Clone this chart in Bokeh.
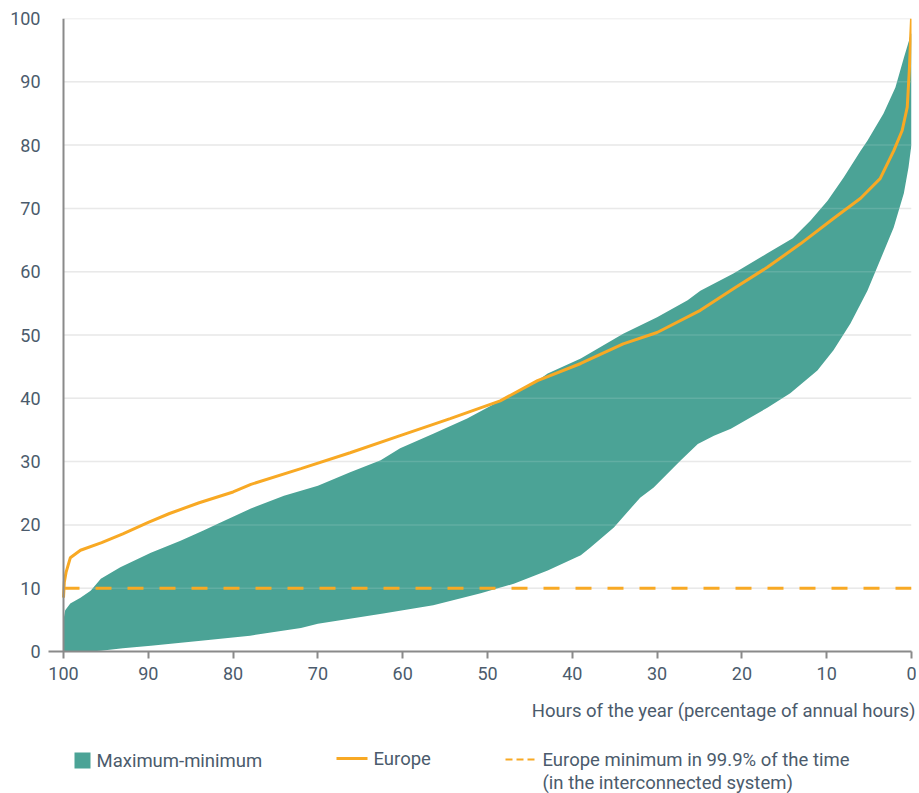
from bokeh.plotting import figure
from bokeh.models import Range1d, FixedTicker, Span
from bokeh.layouts import column
from bokeh.core.properties import value
from bokeh.embed import file_html
from bokeh.resources import INLINE

# ---- data ----
max_x = [100, 99.8, 99.2, 98.0, 96.8, 95.6, 93.3, 89.7, 86.2, 83.5, 81.8, 77.9, 74, 70,
         66.2, 62.6, 60.3, 56.4, 52.4, 48.5, 44.1, 42.9, 39, 34, 30, 26.4, 24.9, 21, 17,
         14, 11.9, 9.9, 8, 6, 5.2, 3.3, 1.9, 0.9, 0.3, 0.1, 0]
max_y = [5.0, 6.5, 7.6, 8.5, 9.6, 11.5, 13.3, 15.6, 17.5, 19.1, 20.2, 22.6, 24.6, 26.2,
         28.3, 30.2, 32.1, 34.4, 36.8, 39.6, 42.8, 43.9, 46.3, 50.2, 52.8, 55.5, 57.0, 59.7, 62.9,
         65.3, 68.1, 71.2, 74.9, 79.1, 80.7, 85.0, 89.1, 93.8, 96.5, 97.6, 97.6]

min_x = [100, 97, 95.6, 93, 89.7, 83.8, 78, 72, 70, 62.3, 56.4, 50.8, 46.9, 42.9, 39, 37.9,
         35.1, 32, 30.4, 27.2, 25.2, 23.3, 21.3, 17, 14.3, 11.1, 9.2, 7.2, 5.2, 3.7, 2.1,
         0.9, 0.35, 0.1, 0]
min_y = [0, 0, 0.1, 0.5, 0.9, 1.7, 2.5, 3.7, 4.4, 6.0, 7.3, 9.2, 10.7, 12.8, 15.2, 16.4,
         19.6, 24.3, 25.9, 30.2, 32.8, 34.1, 35.2, 38.5, 40.8, 44.4, 47.6, 51.8, 57.0, 61.8, 67.0,
         72.4, 76.5, 79.1, 80.0]

europe_x = [100, 99.9, 99.7, 99.2, 98.0, 95.5, 93.0, 90.0, 87.5, 84.0, 80.0, 77.9, 72, 66.2,
            60.3, 54.4, 48.5, 44.1, 39, 34, 30, 24.9, 21, 17, 13.1, 9.2, 6, 3.7, 2.1, 1.1,
            0.5, 0.25, 0.1, 0]
europe_y = [8.5, 11.0, 12.5, 14.8, 16.0, 17.2, 18.6, 20.4, 21.8, 23.5, 25.2, 26.4, 28.9, 31.4,
            34.1, 36.8, 39.6, 42.8, 45.5, 48.6, 50.4, 53.9, 57.3, 60.7, 64.4, 68.4, 71.6, 74.7, 79.1, 82.3,
            86.0, 92.0, 97.0, 100.0]

europe_min_999 = 10
hours_bounds = [100, 0]
x_ticks = [0, 10, 20, 30, 40, 50, 60, 70, 80, 90, 100]
y_ticks = [0, 10, 20, 30, 40, 50, 60, 70, 80, 90, 100]
grid_values = [10, 20, 30, 40, 50, 60, 70, 80, 90, 100]

labels = {
    "area": "Maximum-minimum",
    "europe": "Europe",
    "min1": "Europe minimum in 99.9% of the time",
    "min2": "(in the interconnected system)",
    "xtitle": "Hours of the year (percentage of annual hours)",
}

# ---- style ----
GREEN = "#4BA396"
ORANGE = "#F8A924"
TEXT = "#4b5b6c"
AXIS = "#8a8a8a"
FONT = "Roboto"
FS = "18.5px"

FRAME_W = 863
start = 100 / (1 - 15 / FRAME_W)

p = figure(width=916, height=688, output_backend="svg", toolbar_location=None,
           x_range=Range1d(start, 0), y_range=Range1d(0, 100),
           min_border_left=48, min_border_right=5, min_border_top=18, min_border_bottom=37)
p.outline_line_color = None
p.xgrid.visible = False
p.ygrid.visible = False

for ax in (p.xaxis[0], p.yaxis[0]):
    ax.major_label_text_font = FONT
    ax.major_label_text_font_size = "18px"
    ax.major_label_text_color = TEXT
    ax.minor_tick_line_color = None

p.xaxis.ticker = FixedTicker(ticks=x_ticks)
p.xaxis.axis_line_color = AXIS
p.xaxis.axis_line_width = 2
p.xaxis.major_tick_line_color = AXIS
p.xaxis.major_tick_line_width = 2
p.xaxis.major_tick_in = 0
p.xaxis.major_tick_out = 7
p.xaxis.major_label_standoff = 8

p.yaxis.ticker = FixedTicker(ticks=y_ticks)
p.yaxis.axis_line_color = None
p.yaxis.major_tick_line_color = None
p.yaxis.major_tick_in = 0
p.yaxis.major_tick_out = 0
p.yaxis.major_label_standoff = 8

# grid lines (drawn from x=100 to x=0)
n = len(grid_values)
p.segment(x0=[hours_bounds[0]] * n, x1=[hours_bounds[1]] * n, y0=grid_values, y1=grid_values,
          line_color="#e6e6e6", line_width=1.5)

# band
band_x = list(max_x) + list(reversed(min_x))
band_y = list(max_y) + list(reversed(min_y))
p.patch(band_x, band_y, fill_color=GREEN, line_color=None)

# faint gridlines over the band
p.segment(x0=[hours_bounds[0]] * n, x1=[hours_bounds[1]] * n, y0=grid_values, y1=grid_values,
          line_color="white", line_alpha=0.13, line_width=1.5)

# y axis line
p.add_layout(Span(location=100, dimension="height", line_color=AXIS, line_width=2))

# dashed minimum line
p.line(hours_bounds, [europe_min_999, europe_min_999], line_color=ORANGE, line_width=3,
       line_dash="16 16")

# Europe line
p.line(europe_x, europe_y, line_color=ORANGE, line_width=3)

# ---- axis title & legend in a second figure (pixel coordinates) ----
TOP = 688
H = 105
lg = figure(width=916, height=H, output_backend="svg", toolbar_location=None,
            x_range=Range1d(48, 911), y_range=Range1d(H, 0),
            min_border_left=48, min_border_right=5,
            min_border_top=0, min_border_bottom=0)
lg.axis.visible = False
lg.grid.visible = False
lg.outline_line_color = None


def t(px, py, text, align="left", level="glyph"):
    r = lg.text(x=[px], y=[py - TOP], text=[text], text_font=value(FONT),
                text_font_size=FS, text_color=TEXT, text_align=align,
                text_baseline="middle")
    r.level = level
    return r


t(915, 710, labels["xtitle"], align="right", level="overlay")

lg.quad(left=[74], right=[90], top=[752 - TOP], bottom=[768 - TOP],
        fill_color=GREEN, line_color=None)
t(96, 760, labels["area"])

lg.line([336, 367], [758 - TOP, 758 - TOP], line_color=ORANGE, line_width=3)
t(373, 758, labels["europe"])

lg.line([505, 534], [759 - TOP, 759 - TOP], line_color=ORANGE, line_width=2, line_dash="7 4")
t(542, 759, labels["min1"])
t(542, 782, labels["min2"])

layout = column(p, lg, spacing=0)
open("out.html", "w").write(file_html(layout, INLINE))
